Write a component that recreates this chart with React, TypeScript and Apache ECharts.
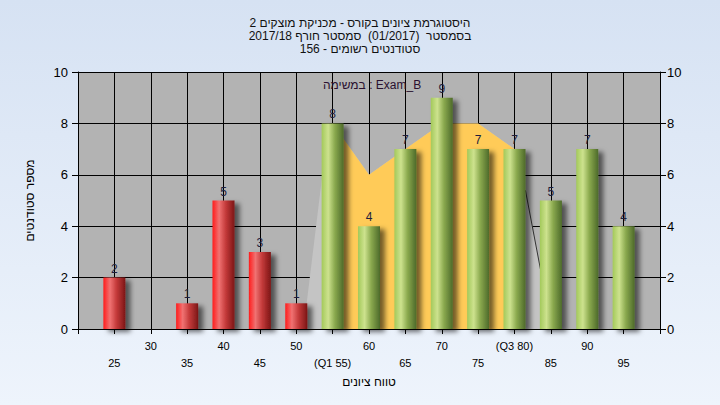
import React, { useEffect, useRef } from "react";
import * as echarts from "echarts";

// ---- data ----
const scoreBins = [25, 30, 35, 40, 45, 50, 55, 60, 65, 70, 75, 80, 85, 90, 95];
const studentCounts = [2, 0, 1, 5, 3, 1, 8, 4, 7, 9, 7, 7, 5, 7, 4];
const passMark = 55;
const quartileBins = [55, 80];
const quartileNames = ["Q1", "Q3"];
// interquartile (yellow) profile
const iqrX = [55, 60, 65, 70, 75, 80];
const iqrY = [8, 6, 7, 8, 8, 7];
// distribution (light grey) profile
const curveX = [51, 53.5, 55, 60, 65, 70, 75, 80, 81.5, 85];
const curveY = [0, 5.8, 8, 6, 7, 8, 8, 7, 5.4, 0.2];
// dark edge of the upper tail
const tailX = [81.5, 85];
const tailY = [5.4, 0.2];

const titleLines = [
  "היסטוגרמת ציונים בקורס - מכניקת מוצקים 2",
  "בסמסטר  (01/2017)  סמסטר חורף 2017/18",
  "סטודנטים רשומים - 156",
];
const taskLabel = "במשימה : Exam_B";
const xName = "טווח ציונים";
const yName = "מספר סטודנטים";

const FONT = "Liberation Sans, Arial, sans-serif";

export default function App() {
  const ref = useRef<HTMLDivElement>(null);
  useEffect(() => {
    if (!ref.current) return;
    const chart = echarts.init(ref.current, null, { renderer: "svg" });
    const rtl = (s: string) => "\u202B" + s + "\u202C";

    const redGrad = new echarts.graphic.LinearGradient(0, 0, 1, 0, [
      { offset: 0, color: "#ff1c1c" },
      { offset: 0.3, color: "#f07272" },
      { offset: 0.6, color: "#c43a3a" },
      { offset: 1, color: "#7c1616" },
    ]);
    const greenGrad = new echarts.graphic.LinearGradient(0, 0, 1, 0, [
      { offset: 0, color: "#a3c95a" },
      { offset: 0.3, color: "#cde28e" },
      { offset: 0.6, color: "#8aa94e" },
      { offset: 1, color: "#4d6a2a" },
    ]);

    const barData = scoreBins.map((b, i) => ({
      value: [b, studentCounts[i]],
      itemStyle: { color: b < passMark ? redGrad : greenGrad },
      label: { show: studentCounts[i] > 0 },
    }));

    const labelFor = (v: number) => {
      if (v <= 20 || v >= 100) return "";
      const qi = quartileBins.indexOf(v);
      const txt = qi >= 0 ? "(" + quartileNames[qi] + " " + v + ")" : String(v);
      return v % 10 === 0 ? txt : "\n" + txt;
    };

    chart.setOption({
      animation: false,
      backgroundColor: new echarts.graphic.LinearGradient(0, 0, 0, 1, [
        { offset: 0, color: "#d6e2f3" },
        { offset: 1, color: "#eef4fc" },
      ]),
      textStyle: { fontFamily: FONT },
      title: {
        text: titleLines.map(rtl).join("\n"),
        left: "center",
        top: 11,
        textStyle: { fontSize: 12, fontWeight: "normal", color: "#111", lineHeight: 13, fontFamily: FONT },
      },
      graphic: [
        {
          type: "text",
          left: 323,
          top: 79,
          style: { text: taskLabel, fontSize: 12, fill: "#2a1030", font: "12px " + FONT },
          z: 10,
        },
      ],
      grid: {
        left: 78,
        right: 60,
        top: 72,
        bottom: 76,
        show: true,
        backgroundColor: "#b3b3b3",
        borderWidth: 0,
      },
      xAxis: {
        type: "value",
        min: 20,
        max: 100,
        interval: 5,
        name: xName,
        nameLocation: "middle",
        nameGap: 45,
        nameTextStyle: { fontSize: 12, color: "#000", fontFamily: FONT },
        axisLine: { lineStyle: { color: "#000", width: 1 } },
        axisTick: { show: true, length: 5, lineStyle: { color: "#000" } },
        splitLine: { show: true, lineStyle: { color: "#000", width: 1 } },
        axisLabel: {
          formatter: labelFor,
          fontSize: 11,
          color: "#000",
          lineHeight: 17,
          margin: 8,
          fontFamily: FONT,
        },
      },
      yAxis: [
        {
          type: "value",
          position: "left",
          min: 0,
          max: 10,
          interval: 2,
          name: yName,
          nameLocation: "middle",
          nameGap: 42,
          nameRotate: 90,
          nameTextStyle: { fontSize: 12, color: "#000", fontFamily: FONT },
          axisLine: { show: true, lineStyle: { color: "#000" } },
          axisTick: { show: true, length: 6, lineStyle: { color: "#000" } },
          splitLine: { show: true, lineStyle: { color: "#000", width: 1 } },
          axisLabel: { fontSize: 13, color: "#000", margin: 10, fontFamily: FONT },
        },
        {
          type: "value",
          position: "right",
          min: 0,
          max: 10,
          interval: 2,
          axisLine: { show: true, lineStyle: { color: "#000" } },
          axisTick: { show: true, length: 6, lineStyle: { color: "#000" } },
          splitLine: { show: false },
          axisLabel: { fontSize: 13, color: "#000", margin: 7, fontFamily: FONT },
        },
      ],
      series: [
        {
          type: "line",
          data: curveX.map((x, i) => [x, curveY[i]]),
          symbol: "none",
          lineStyle: { width: 0 },
          areaStyle: { color: "#c4c4c4", opacity: 1 },
          z: 1,
          silent: true,
        },
        {
          type: "line",
          data: iqrX.map((x, i) => [x, iqrY[i]]),
          symbol: "none",
          lineStyle: { width: 0 },
          areaStyle: { color: "#ffcb58", opacity: 1 },
          z: 1,
          silent: true,
        },
        {
          type: "line",
          data: tailX.map((x, i) => [x, tailY[i]]),
          symbol: "none",
          lineStyle: { width: 1, color: "#333" },
          z: 1,
          silent: true,
        },
        {
          type: "bar",
          data: barData,
          barWidth: 22,
          z: 3,
          itemStyle: {
            shadowColor: "rgba(0,0,0,0.55)",
            shadowBlur: 5,
            shadowOffsetX: 5,
            shadowOffsetY: 3,
          },
          label: {
            show: true,
            position: "top",
            distance: 3,
            fontSize: 12,
            color: "#1e1e3c",
            fontFamily: FONT,
            formatter: (p: any) => String(p.value[1]),
          },
        },
      ],
    });
    return () => chart.dispose();
  }, []);
  return (
    <div
      ref={ref}
      style={{ position: "fixed", left: 0, top: 0, width: 720, height: 405 }}
    />
  );
}
